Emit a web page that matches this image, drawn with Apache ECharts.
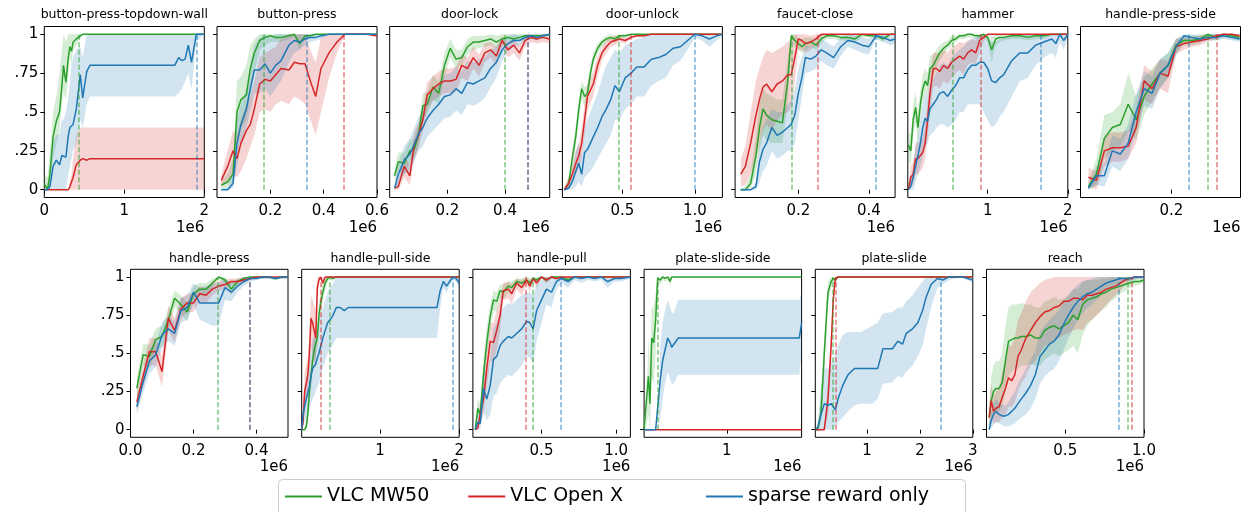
<!DOCTYPE html>
<html>
<head>
<meta charset="utf-8">
<script src="https://cdn.jsdelivr.net/npm/echarts@6/dist/echarts.min.js"></script>
<style>
html, body { margin: 0; padding: 0; background: #fff; }
#chart { width: 1245px; height: 512px; }
</style>
</head>
<body>
<div id="chart"></div>
<script>
/*
 * 数据：x 以 1e6 步为单位，每个任务三条曲线（均值 + 上下界）
 */
var yTicks = [0, 0.25, 0.5, 0.75, 1];

// button-press-topdown-wall
var bptwX = [0, 0.04, 0.07, 0.11, 0.15, 0.19, 0.22, 0.24, 0.27, 0.3, 0.32, 0.34, 0.36, 0.4, 0.45, 0.48, 0.53, 0.57, 0.6, 1.0, 1.4, 1.63, 1.68, 1.72, 1.76, 1.8, 1.84, 1.9, 2.0];
var bptwG = [0.04, 0, 0.1, 0.34, 0.44, 0.5, 0.67, 0.8, 0.69, 0.85, 0.92, 0.89, 0.95, 0.97, 0.99, 1, 1, 1, 1, 1, 1, 1, 1, 1, 1, 1, 1, 1, 1];
var bptwGLo = [0, 0, 0, 0.2, 0.3, 0.38, 0.55, 0.62, 0.58, 0.72, 0.85, 0.8, 0.9, 0.93, 0.97, 1, 1, 1, 1, 1, 1, 1, 1, 1, 1, 1, 1, 1, 1];
var bptwGHi = [0.1, 0.08, 0.25, 0.5, 0.6, 0.75, 0.9, 1, 0.95, 1, 1, 1, 1, 1, 1, 1, 1, 1, 1, 1, 1, 1, 1, 1, 1, 1, 1, 1, 1];
var bptwR = [0, 0, 0, 0, 0, 0, 0, 0, 0, 0, 0.02, 0.05, 0.08, 0.16, 0.19, 0.2, 0.19, 0.2, 0.2, 0.2, 0.2, 0.2, 0.2, 0.2, 0.2, 0.2, 0.2, 0.2, 0.2];
var bptwRLo = [0, 0, 0, 0, 0, 0, 0, 0, 0, 0, 0, 0, 0, 0, 0, 0, 0, 0, 0, 0, 0, 0, 0, 0, 0, 0, 0, 0, 0];
var bptwRHi = [0, 0, 0, 0, 0, 0, 0, 0, 0, 0, 0.05, 0.1, 0.2, 0.35, 0.4, 0.4, 0.4, 0.4, 0.4, 0.4, 0.4, 0.4, 0.4, 0.4, 0.4, 0.4, 0.4, 0.4, 0.4];
var bptwB = [0, 0, 0.02, 0.15, 0.19, 0.16, 0.22, 0.22, 0.21, 0.35, 0.4, 0.4, 0.42, 0.52, 0.74, 0.59, 0.76, 0.8, 0.8, 0.8, 0.8, 0.8, 0.85, 0.83, 0.84, 0.93, 0.82, 1, 1];
var bptwBLo = [0, 0, 0, 0, 0, 0, 0, 0, 0, 0.1, 0.15, 0.2, 0.25, 0.3, 0.45, 0.4, 0.55, 0.6, 0.6, 0.6, 0.6, 0.6, 0.62, 0.65, 0.7, 0.75, 0.65, 0.95, 1];
var bptwBHi = [0, 0.02, 0.1, 0.3, 0.35, 0.36, 0.45, 0.45, 0.5, 0.6, 0.7, 0.8, 0.85, 0.9, 0.92, 0.85, 1, 1, 1, 1, 1, 1, 1, 1, 1, 1, 1, 1, 1];
var bptwTicks = [0, 1, 2];
var bptwVlines = [0.433, null, 1.9];

// button-press
var bpX = [0.016, 0.04, 0.06, 0.075, 0.09, 0.11, 0.125, 0.14, 0.16, 0.18, 0.2, 0.22, 0.24, 0.27, 0.29, 0.31, 0.33, 0.35, 0.37, 0.39, 0.42, 0.45, 0.48, 0.52, 0.56, 0.6];
var bpG = [0.03, 0.05, 0.1, 0.5, 0.58, 0.61, 0.78, 0.88, 0.96, 0.98, 0.99, 0.98, 0.98, 0.99, 1, 0.94, 0.99, 0.99, 1, 1, 1, 1, 1, 1, 1, 1];
var bpGLo = [0, 0.02, 0.05, 0.3, 0.4, 0.45, 0.6, 0.75, 0.9, 0.93, 0.95, 0.95, 0.95, 0.97, 0.98, 0.9, 0.97, 0.98, 1, 1, 1, 1, 1, 1, 1, 1];
var bpGHi = [0.06, 0.1, 0.2, 0.7, 0.73, 0.8, 0.93, 0.97, 1, 1, 1, 1, 1, 1, 1, 1, 1, 1, 1, 1, 1, 1, 1, 1, 1, 1];
var bpR = [0.06, 0.15, 0.25, 0.2, 0.3, 0.38, 0.42, 0.52, 0.68, 0.71, 0.7, 0.74, 0.78, 0.77, 0.82, 0.81, 0.81, 0.7, 0.6, 0.78, 0.88, 0.95, 1, 1, 1, 0.99];
var bpRLo = [0.02, 0.05, 0.1, 0.08, 0.12, 0.2, 0.28, 0.35, 0.5, 0.52, 0.5, 0.55, 0.57, 0.55, 0.6, 0.58, 0.55, 0.45, 0.35, 0.5, 0.72, 0.88, 1, 1, 1, 0.98];
var bpRHi = [0.1, 0.25, 0.38, 0.35, 0.45, 0.55, 0.6, 0.7, 0.85, 0.88, 0.9, 0.92, 0.97, 1, 1, 1, 1, 0.9, 0.82, 0.98, 1, 1, 1, 1, 1, 1];
var bpB = [0, 0, 0.04, 0.3, 0.42, 0.52, 0.65, 0.77, 0.77, 0.81, 0.75, 0.8, 0.83, 0.93, 0.96, 0.95, 0.97, 0.98, 0.98, 0.99, 1, 1, 1, 1, 1, 1];
var bpBLo = [0, 0, 0.01, 0.15, 0.3, 0.4, 0.5, 0.62, 0.62, 0.65, 0.6, 0.65, 0.7, 0.82, 0.88, 0.9, 0.93, 0.95, 0.96, 0.97, 1, 1, 1, 1, 1, 1];
var bpBHi = [0, 0.02, 0.1, 0.45, 0.55, 0.65, 0.8, 0.93, 0.98, 1, 0.98, 1, 1, 1, 1, 1, 1, 1, 1, 1, 1, 1, 1, 1, 1, 1];
var bpTicks = [0.2, 0.4, 0.6];
var bpVlines = [0.176, 0.476, 0.335];

// door-lock
var dlX = [0.017, 0.03, 0.05, 0.07, 0.085, 0.1, 0.115, 0.13, 0.15, 0.17, 0.19, 0.21, 0.23, 0.25, 0.27, 0.29, 0.31, 0.33, 0.35, 0.37, 0.39, 0.41, 0.43, 0.45, 0.47, 0.49, 0.51, 0.53, 0.555];
var dlG = [0.09, 0.18, 0.17, 0.25, 0.26, 0.35, 0.54, 0.55, 0.66, 0.62, 0.8, 0.91, 0.84, 0.85, 0.92, 0.95, 0.95, 0.96, 0.97, 0.95, 0.97, 0.98, 0.97, 0.98, 0.99, 0.99, 0.99, 0.99, 1];
var dlGLo = [0.04, 0.12, 0.1, 0.18, 0.2, 0.28, 0.46, 0.48, 0.58, 0.55, 0.72, 0.85, 0.78, 0.8, 0.87, 0.9, 0.91, 0.92, 0.93, 0.91, 0.94, 0.96, 0.95, 0.96, 0.97, 0.97, 0.98, 0.98, 0.99];
var dlGHi = [0.14, 0.24, 0.24, 0.32, 0.33, 0.42, 0.62, 0.63, 0.74, 0.7, 0.88, 0.97, 0.9, 0.9, 0.97, 0.99, 0.99, 0.99, 1, 0.99, 1, 1, 1, 1, 1, 1, 1, 1, 1];
var dlR = [0.01, 0.02, 0.15, 0.09, 0.29, 0.35, 0.45, 0.61, 0.65, 0.68, 0.7, 0.7, 0.71, 0.8, 0.78, 0.85, 0.8, 0.88, 0.9, 0.86, 0.96, 0.9, 0.93, 0.88, 0.96, 0.98, 0.97, 0.98, 0.97];
var dlRLo = [0, 0, 0.08, 0.03, 0.2, 0.27, 0.37, 0.52, 0.57, 0.6, 0.62, 0.62, 0.63, 0.72, 0.7, 0.78, 0.73, 0.82, 0.85, 0.8, 0.92, 0.85, 0.88, 0.83, 0.92, 0.95, 0.94, 0.95, 0.94];
var dlRHi = [0.03, 0.06, 0.22, 0.16, 0.37, 0.43, 0.53, 0.69, 0.73, 0.76, 0.78, 0.78, 0.79, 0.87, 0.85, 0.92, 0.87, 0.94, 0.95, 0.92, 0.99, 0.95, 0.97, 0.93, 0.99, 1, 0.99, 1, 0.99];
var dlB = [0.01, 0.1, 0.19, 0.23, 0.29, 0.36, 0.4, 0.46, 0.51, 0.55, 0.6, 0.61, 0.65, 0.62, 0.69, 0.68, 0.7, 0.72, 0.78, 0.82, 0.9, 0.94, 0.96, 0.96, 0.98, 0.99, 0.98, 0.99, 1];
var dlBLo = [0, 0.03, 0.1, 0.13, 0.18, 0.25, 0.28, 0.34, 0.38, 0.42, 0.46, 0.47, 0.51, 0.48, 0.55, 0.54, 0.56, 0.59, 0.66, 0.72, 0.83, 0.89, 0.92, 0.93, 0.96, 0.97, 0.96, 0.98, 0.99];
var dlBHi = [0.02, 0.17, 0.28, 0.33, 0.4, 0.47, 0.52, 0.58, 0.64, 0.68, 0.74, 0.75, 0.79, 0.76, 0.83, 0.82, 0.84, 0.85, 0.9, 0.92, 0.97, 0.99, 1, 0.99, 1, 1, 1, 1, 1];
var dlTicks = [0.2, 0.4];
var dlVlines = [0.4, 0.48, 0.48];

// door-unlock
var duX = [0.1, 0.13, 0.155, 0.18, 0.2, 0.22, 0.24, 0.26, 0.28, 0.3, 0.33, 0.36, 0.39, 0.42, 0.45, 0.48, 0.52, 0.56, 0.6, 0.65, 0.7, 0.75, 0.8, 0.85, 0.9, 0.95, 1.0, 1.05, 1.1, 1.15, 1.19];
var duG = [0, 0.04, 0.2, 0.35, 0.52, 0.65, 0.6, 0.62, 0.75, 0.84, 0.91, 0.95, 0.97, 0.98, 0.97, 0.99, 0.99, 1, 1, 1, 1, 1, 1, 1, 1, 1, 1, 1, 1, 1, 1];
var duGLo = [0, 0.01, 0.14, 0.28, 0.45, 0.58, 0.54, 0.56, 0.7, 0.8, 0.88, 0.92, 0.95, 0.96, 0.95, 0.97, 0.98, 0.99, 1, 1, 1, 1, 1, 1, 1, 1, 1, 1, 1, 1, 1];
var duGHi = [0.01, 0.08, 0.26, 0.42, 0.58, 0.7, 0.66, 0.68, 0.8, 0.88, 0.94, 0.97, 0.99, 1, 0.99, 1, 1, 1, 1, 1, 1, 1, 1, 1, 1, 1, 1, 1, 1, 1, 1];
var duR = [0, 0.04, 0.1, 0.17, 0.22, 0.3, 0.45, 0.6, 0.64, 0.68, 0.8, 0.88, 0.92, 0.95, 0.96, 0.97, 0.96, 0.98, 0.99, 0.99, 1, 1, 1, 1, 1, 1, 1, 1, 1, 1, 1];
var duRLo = [0, 0.01, 0.05, 0.1, 0.14, 0.2, 0.35, 0.5, 0.56, 0.6, 0.73, 0.83, 0.88, 0.92, 0.93, 0.95, 0.94, 0.97, 0.98, 0.98, 1, 1, 1, 1, 1, 1, 1, 1, 1, 1, 1];
var duRHi = [0.01, 0.08, 0.16, 0.25, 0.3, 0.4, 0.55, 0.68, 0.72, 0.76, 0.86, 0.92, 0.96, 0.98, 0.99, 0.99, 0.98, 0.99, 1, 1, 1, 1, 1, 1, 1, 1, 1, 1, 1, 1, 1];
var duB = [0, 0.01, 0.05, 0.12, 0.17, 0.1, 0.24, 0.26, 0.3, 0.34, 0.4, 0.47, 0.52, 0.58, 0.67, 0.63, 0.72, 0.75, 0.79, 0.79, 0.84, 0.85, 0.87, 0.91, 0.92, 0.96, 1.0, 0.99, 0.97, 0.99, 1];
var duBLo = [0, 0, 0, 0.02, 0.05, 0.02, 0.08, 0.1, 0.12, 0.15, 0.2, 0.25, 0.3, 0.35, 0.45, 0.45, 0.52, 0.55, 0.6, 0.6, 0.67, 0.7, 0.72, 0.8, 0.83, 0.9, 0.98, 0.96, 0.92, 0.96, 0.99];
var duBHi = [0, 0.04, 0.12, 0.25, 0.3, 0.22, 0.4, 0.45, 0.5, 0.55, 0.62, 0.72, 0.8, 0.85, 0.9, 0.88, 0.93, 0.95, 0.97, 0.98, 1, 1, 1, 1, 1, 1, 1, 1, 1, 1, 1];
var duTicks = [0.5, 1.0];
var duVlines = [0.473, 0.56, 1.0];

// faucet-close
var fcX = [0.037, 0.05, 0.065, 0.08, 0.09, 0.1, 0.11, 0.125, 0.14, 0.155, 0.17, 0.18, 0.19, 0.2, 0.21, 0.22, 0.235, 0.25, 0.265, 0.28, 0.3, 0.32, 0.34, 0.36, 0.38, 0.4, 0.42, 0.44, 0.46, 0.474];
var fcG = [0, 0, 0.04, 0.22, 0.4, 0.52, 0.48, 0.45, 0.44, 0.43, 0.7, 0.99, 0.96, 0.94, 0.92, 0.94, 0.95, 0.93, 0.97, 0.99, 0.99, 0.98, 0.98, 0.97, 1, 0.99, 0.99, 0.97, 1, 1];
var fcGLo = [0, 0, 0.01, 0.1, 0.25, 0.35, 0.32, 0.3, 0.3, 0.3, 0.55, 0.95, 0.92, 0.9, 0.88, 0.9, 0.92, 0.9, 0.94, 0.97, 0.97, 0.96, 0.96, 0.95, 0.98, 0.98, 0.98, 0.95, 0.99, 1];
var fcGHi = [0.01, 0.02, 0.1, 0.35, 0.55, 0.65, 0.62, 0.6, 0.58, 0.58, 0.85, 1, 1, 0.98, 0.97, 0.98, 0.98, 0.97, 1, 1, 1, 1, 1, 0.99, 1, 1, 1, 1, 1, 1];
var fcR = [0.1, 0.15, 0.3, 0.48, 0.58, 0.66, 0.68, 0.63, 0.68, 0.7, 0.74, 0.74, 0.85, 0.97, 0.96, 0.94, 0.95, 0.97, 1, 1, 1, 1, 1, 1, 1, 1, 1, 1, 1, 1];
var fcRLo = [0.02, 0.03, 0.1, 0.2, 0.3, 0.38, 0.42, 0.38, 0.45, 0.48, 0.5, 0.52, 0.7, 0.9, 0.9, 0.88, 0.9, 0.93, 0.98, 1, 1, 1, 1, 1, 1, 1, 1, 1, 1, 1];
var fcRHi = [0.2, 0.28, 0.5, 0.7, 0.78, 0.85, 0.9, 0.88, 0.9, 0.92, 0.95, 0.97, 1, 1, 1, 1, 0.99, 1, 1, 1, 1, 1, 1, 1, 1, 1, 1, 1, 1, 1];
var fcB = [0, 0, 0, 0.02, 0.18, 0.26, 0.3, 0.4, 0.35, 0.37, 0.4, 0.42, 0.48, 0.62, 0.72, 0.85, 0.84, 0.86, 0.9, 0.88, 0.85, 0.92, 0.96, 0.95, 0.93, 0.92, 0.99, 0.98, 0.96, 0.97];
var fcBLo = [0, 0, 0, 0, 0.05, 0.12, 0.15, 0.25, 0.2, 0.22, 0.25, 0.25, 0.3, 0.45, 0.6, 0.75, 0.76, 0.78, 0.83, 0.8, 0.78, 0.86, 0.92, 0.9, 0.88, 0.87, 0.97, 0.95, 0.93, 0.94];
var fcBHi = [0, 0, 0, 0.05, 0.3, 0.4, 0.45, 0.52, 0.5, 0.5, 0.55, 0.58, 0.65, 0.78, 0.85, 0.93, 0.92, 0.93, 0.97, 0.95, 0.92, 0.98, 1, 1, 0.98, 0.97, 1, 1, 0.99, 1];
var fcTicks = [0.2, 0.4];
var fcVlines = [0.181, 0.255, 0.419];

// hammer
var hmX = [0.01, 0.04, 0.07, 0.1, 0.13, 0.16, 0.19, 0.22, 0.25, 0.28, 0.32, 0.36, 0.4, 0.45, 0.5, 0.55, 0.6, 0.65, 0.7, 0.75, 0.8, 0.85, 0.9, 0.95, 1.0, 1.05, 1.1, 1.15, 1.2, 1.3, 1.4, 1.5, 1.6, 1.7, 1.8, 1.85, 1.9, 1.95, 2.0];
var hmG = [0.29, 0.25, 0.45, 0.53, 0.4, 0.55, 0.65, 0.7, 0.67, 0.78, 0.8, 0.84, 0.88, 0.91, 0.93, 0.96, 0.97, 0.99, 0.99, 1, 1, 0.99, 0.99, 1, 0.98, 0.9, 0.97, 0.98, 0.98, 0.99, 0.99, 0.98, 0.99, 0.99, 1, 1, 1, 1, 1];
var hmGLo = [0.2, 0.15, 0.35, 0.43, 0.3, 0.45, 0.56, 0.62, 0.6, 0.7, 0.73, 0.78, 0.83, 0.87, 0.9, 0.93, 0.95, 0.97, 0.97, 0.98, 0.98, 0.97, 0.97, 0.98, 0.95, 0.82, 0.93, 0.95, 0.96, 0.97, 0.97, 0.96, 0.97, 0.97, 0.99, 0.99, 0.99, 1, 1];
var hmGHi = [0.38, 0.35, 0.55, 0.63, 0.5, 0.65, 0.74, 0.78, 0.75, 0.86, 0.87, 0.9, 0.93, 0.95, 0.96, 0.99, 0.99, 1, 1, 1, 1, 1, 1, 1, 1, 0.98, 1, 1, 1, 1, 1, 1, 1, 1, 1, 1, 1, 1, 1];
var hmR = [0, 0.08, 0.1, 0.2, 0.2, 0.22, 0.24, 0.3, 0.45, 0.62, 0.78, 0.78, 0.76, 0.8, 0.78, 0.82, 0.84, 0.86, 0.84, 0.88, 0.9, 0.88, 0.96, 0.98, 1, 1, 1, 1, 1, 1, 1, 1, 1, 1, 1, 1, 1, 1, 1];
var hmRLo = [0, 0.02, 0.03, 0.1, 0.1, 0.12, 0.14, 0.2, 0.33, 0.5, 0.66, 0.67, 0.65, 0.7, 0.68, 0.72, 0.75, 0.77, 0.74, 0.8, 0.82, 0.8, 0.9, 0.95, 0.99, 1, 1, 1, 1, 1, 1, 1, 1, 1, 1, 1, 1, 1, 1];
var hmRHi = [0.02, 0.15, 0.18, 0.3, 0.3, 0.32, 0.34, 0.42, 0.57, 0.74, 0.88, 0.88, 0.87, 0.9, 0.88, 0.92, 0.93, 0.95, 0.94, 0.96, 0.97, 0.96, 1, 1, 1, 1, 1, 1, 1, 1, 1, 1, 1, 1, 1, 1, 1, 1, 1];
var hmB = [0, 0.02, 0.08, 0.15, 0.22, 0.3, 0.4, 0.46, 0.44, 0.52, 0.55, 0.58, 0.62, 0.63, 0.6, 0.64, 0.67, 0.72, 0.72, 0.77, 0.8, 0.8, 0.82, 0.82, 0.78, 0.7, 0.69, 0.72, 0.74, 0.83, 0.88, 0.88, 0.93, 0.95, 0.97, 0.94, 1, 0.96, 1];
var hmBLo = [0, 0, 0, 0.05, 0.1, 0.15, 0.22, 0.28, 0.3, 0.35, 0.37, 0.4, 0.42, 0.42, 0.4, 0.42, 0.45, 0.5, 0.5, 0.55, 0.55, 0.55, 0.55, 0.5, 0.45, 0.4, 0.42, 0.47, 0.5, 0.6, 0.7, 0.72, 0.8, 0.85, 0.88, 0.85, 0.95, 0.9, 0.98];
var hmBHi = [0.02, 0.06, 0.15, 0.28, 0.35, 0.45, 0.55, 0.62, 0.6, 0.68, 0.72, 0.75, 0.8, 0.82, 0.8, 0.85, 0.88, 0.9, 0.92, 0.95, 0.97, 0.98, 1, 1, 0.98, 0.95, 0.95, 0.97, 0.98, 1, 1, 1, 1, 1, 1, 1, 1, 1, 1];
var hmTicks = [1, 2];
var hmVlines = [0.56, 0.917, 1.66];

// handle-press-side
var hpsX = [0.0175, 0.035, 0.0525, 0.07, 0.0875, 0.105, 0.1225, 0.14, 0.1575, 0.175, 0.1925, 0.21, 0.2275, 0.245, 0.2625, 0.28, 0.2975, 0.315, 0.3325, 0.35];
var hpsG = [0.02, 0.1, 0.33, 0.4, 0.42, 0.55, 0.45, 0.6, 0.68, 0.75, 0.8, 0.93, 0.96, 0.96, 0.97, 1, 0.98, 1, 0.99, 0.98];
var hpsGLo = [0, 0.03, 0.2, 0.25, 0.28, 0.38, 0.32, 0.48, 0.57, 0.66, 0.72, 0.88, 0.93, 0.93, 0.94, 0.98, 0.96, 0.98, 0.97, 0.96];
var hpsGHi = [0.05, 0.2, 0.48, 0.5, 0.55, 0.75, 0.6, 0.72, 0.78, 0.84, 0.88, 0.97, 0.99, 0.99, 1, 1, 1, 1, 1, 1];
var hpsR = [0.08, 0.06, 0.25, 0.27, 0.27, 0.28, 0.4, 0.7, 0.65, 0.75, 0.73, 0.92, 0.94, 0.95, 0.96, 0.97, 0.99, 1, 1, 0.99];
var hpsRLo = [0.02, 0, 0.15, 0.18, 0.18, 0.2, 0.3, 0.58, 0.55, 0.65, 0.62, 0.87, 0.9, 0.92, 0.93, 0.95, 0.97, 0.99, 0.99, 0.97];
var hpsRHi = [0.14, 0.12, 0.35, 0.37, 0.37, 0.38, 0.52, 0.8, 0.76, 0.84, 0.83, 0.97, 0.98, 0.98, 0.99, 0.99, 1, 1, 1, 1];
var hpsB = [0.01, 0.09, 0.09, 0.25, 0.23, 0.3, 0.5, 0.65, 0.62, 0.75, 0.8, 0.92, 0.99, 0.98, 0.97, 0.98, 0.98, 0.99, 0.98, 0.97];
var hpsBLo = [0, 0.03, 0.02, 0.15, 0.12, 0.2, 0.38, 0.54, 0.52, 0.65, 0.72, 0.86, 0.96, 0.95, 0.95, 0.96, 0.96, 0.97, 0.96, 0.95];
var hpsBHi = [0.03, 0.15, 0.17, 0.35, 0.33, 0.42, 0.62, 0.76, 0.73, 0.84, 0.88, 0.97, 1, 1, 0.99, 1, 1, 1, 1, 0.99];
var hpsTicks = [0.2];
var hpsVlines = [0.279, 0.299, 0.239];

// handle-press
var hpX = [0.02, 0.04, 0.06, 0.08, 0.1, 0.12, 0.14, 0.16, 0.18, 0.2, 0.22, 0.24, 0.26, 0.28, 0.3, 0.32, 0.34, 0.36, 0.38, 0.4, 0.42, 0.44, 0.46, 0.48, 0.5];
var hpG = [0.27, 0.49, 0.48, 0.59, 0.61, 0.72, 0.86, 0.82, 0.77, 0.89, 0.92, 0.92, 0.96, 1, 0.98, 0.92, 0.97, 0.99, 1, 1, 1, 1, 0.99, 1, 1];
var hpGLo = [0.2, 0.42, 0.4, 0.52, 0.54, 0.65, 0.8, 0.76, 0.71, 0.84, 0.88, 0.88, 0.93, 0.98, 0.96, 0.88, 0.95, 0.98, 0.99, 0.99, 0.99, 0.99, 0.98, 0.99, 0.99];
var hpGHi = [0.34, 0.56, 0.56, 0.66, 0.68, 0.79, 0.91, 0.88, 0.83, 0.94, 0.96, 0.96, 0.99, 1, 1, 0.96, 0.99, 1, 1, 1, 1, 1, 1, 1, 1];
var hpR = [0.18, 0.35, 0.51, 0.51, 0.38, 0.73, 0.65, 0.79, 0.83, 0.83, 0.89, 0.88, 0.92, 0.94, 0.95, 0.97, 0.97, 0.98, 0.99, 1, 1, 1, 1, 1, 1];
var hpRLo = [0.12, 0.28, 0.42, 0.42, 0.28, 0.65, 0.57, 0.72, 0.77, 0.77, 0.84, 0.83, 0.88, 0.91, 0.92, 0.95, 0.95, 0.96, 0.98, 0.99, 0.99, 0.99, 0.99, 0.99, 0.99];
var hpRHi = [0.24, 0.42, 0.6, 0.6, 0.48, 0.81, 0.73, 0.86, 0.89, 0.89, 0.94, 0.93, 0.96, 0.97, 0.98, 0.99, 0.99, 1, 1, 1, 1, 1, 1, 1, 1];
var hpB = [0.15, 0.31, 0.45, 0.49, 0.62, 0.66, 0.63, 0.78, 0.8, 0.9, 0.83, 0.83, 0.83, 0.83, 0.93, 0.9, 0.94, 0.97, 0.99, 0.99, 1, 1, 0.99, 1, 1];
var hpBLo = [0.1, 0.24, 0.37, 0.41, 0.54, 0.58, 0.55, 0.7, 0.72, 0.82, 0.72, 0.7, 0.68, 0.68, 0.85, 0.84, 0.9, 0.94, 0.97, 0.98, 0.99, 0.99, 0.98, 0.99, 0.99];
var hpBHi = [0.2, 0.38, 0.53, 0.57, 0.7, 0.74, 0.71, 0.86, 0.88, 0.96, 0.93, 0.94, 0.95, 0.96, 0.99, 0.96, 0.98, 1, 1, 1, 1, 1, 1, 1, 1];
var hpTicks = [0, 0.2, 0.4];
var hpVlines = [0.278, 0.379, 0.379];

// handle-pull-side
var hplsX = [0.013, 0.03, 0.05, 0.07, 0.09, 0.11, 0.13, 0.15, 0.17, 0.19, 0.21, 0.23, 0.25, 0.28, 0.31, 0.34, 0.37, 0.4, 0.45, 0.5, 0.55, 0.6, 0.8, 1.2, 1.6, 1.72, 1.76, 1.8, 1.84, 1.88, 1.92, 1.96, 2.0];
var hplsG = [0, 0, 0, 0.02, 0.1, 0.25, 0.35, 0.45, 0.52, 0.56, 0.6, 0.75, 0.82, 0.9, 0.96, 0.99, 1, 0.99, 1, 1, 1, 1, 1, 1, 1, 1, 1, 1, 1, 1, 1, 1, 1];
var hplsGLo = [0, 0, 0, 0, 0.04, 0.17, 0.27, 0.37, 0.44, 0.48, 0.52, 0.67, 0.75, 0.84, 0.92, 0.97, 0.99, 0.97, 1, 1, 1, 1, 1, 1, 1, 1, 1, 1, 1, 1, 1, 1, 1];
var hplsGHi = [0, 0, 0.01, 0.06, 0.17, 0.33, 0.43, 0.53, 0.6, 0.64, 0.68, 0.83, 0.89, 0.96, 1, 1, 1, 1, 1, 1, 1, 1, 1, 1, 1, 1, 1, 1, 1, 1, 1, 1, 1];
var hplsR = [0, 0.05, 0.25, 0.3, 0.36, 0.5, 0.73, 0.7, 0.65, 0.6, 0.93, 0.98, 1, 0.96, 1, 1, 1, 1, 1, 1, 1, 1, 1, 1, 1, 1, 1, 1, 1, 1, 1, 1, 1];
var hplsRLo = [0, 0, 0.12, 0.2, 0.25, 0.35, 0.55, 0.5, 0.45, 0.42, 0.85, 0.95, 1, 0.93, 1, 1, 1, 1, 1, 1, 1, 1, 1, 1, 1, 1, 1, 1, 1, 1, 1, 1, 1];
var hplsRHi = [0.02, 0.12, 0.38, 0.42, 0.48, 0.65, 0.88, 0.85, 0.82, 0.78, 1, 1, 1, 1, 1, 1, 1, 1, 1, 1, 1, 1, 1, 1, 1, 1, 1, 1, 1, 1, 1, 1, 1];
var hplsB = [0, 0.1, 0.15, 0.2, 0.24, 0.28, 0.35, 0.4, 0.4, 0.43, 0.47, 0.5, 0.54, 0.6, 0.65, 0.7, 0.72, 0.74, 0.8, 0.8, 0.78, 0.8, 0.8, 0.8, 0.8, 0.8, 0.91, 0.97, 0.94, 0.97, 1, 0.99, 0.96];
var hplsBLo = [0, 0.02, 0.05, 0.08, 0.1, 0.12, 0.17, 0.2, 0.22, 0.25, 0.28, 0.3, 0.35, 0.4, 0.45, 0.5, 0.52, 0.55, 0.6, 0.6, 0.6, 0.6, 0.6, 0.6, 0.6, 0.6, 0.8, 0.93, 0.9, 0.94, 0.98, 0.97, 0.93];
var hplsBHi = [0, 0.18, 0.25, 0.32, 0.38, 0.45, 0.52, 0.6, 0.6, 0.63, 0.68, 0.72, 0.75, 0.8, 0.85, 0.9, 0.93, 0.95, 1, 1, 1, 1, 1, 1, 1, 1, 1, 1, 1, 1, 1, 1, 1];
var hplsTicks = [1, 2];
var hplsVlines = [0.361, 0.256, 1.916];

// handle-pull
var hplX = [0.056, 0.073, 0.089, 0.111, 0.133, 0.156, 0.178, 0.2, 0.222, 0.244, 0.278, 0.3, 0.333, 0.367, 0.4, 0.422, 0.444, 0.467, 0.5, 0.533, 0.567, 0.6, 0.633, 0.678, 0.722, 0.767, 0.811, 0.856, 0.9, 0.944, 0.989, 1.033, 1.096];
var hplG = [0, 0.14, 0.1, 0.36, 0.57, 0.74, 0.85, 0.84, 0.91, 0.9, 0.94, 0.93, 0.97, 0.96, 0.98, 0.96, 0.99, 0.98, 1, 0.98, 1, 1, 1, 0.98, 1, 1, 1, 1, 1, 1, 1, 1, 1];
var hplGLo = [0, 0.08, 0.04, 0.26, 0.47, 0.65, 0.78, 0.77, 0.86, 0.85, 0.9, 0.89, 0.94, 0.93, 0.96, 0.93, 0.97, 0.96, 0.99, 0.96, 0.99, 0.99, 0.99, 0.96, 0.99, 0.99, 1, 1, 1, 1, 1, 1, 1];
var hplGHi = [0.01, 0.2, 0.17, 0.46, 0.67, 0.82, 0.91, 0.9, 0.95, 0.95, 0.97, 0.97, 0.99, 0.99, 1, 0.99, 1, 1, 1, 1, 1, 1, 1, 1, 1, 1, 1, 1, 1, 1, 1, 1, 1];
var hplR = [0, 0.01, 0.1, 0.2, 0.4, 0.58, 0.57, 0.65, 0.75, 0.91, 0.92, 0.89, 0.96, 0.93, 0.98, 0.94, 0.99, 0.96, 1, 0.98, 1, 0.99, 1, 1, 1, 1, 1, 1, 1, 1, 1, 1, 1];
var hplRLo = [0, 0, 0.04, 0.1, 0.28, 0.45, 0.44, 0.52, 0.64, 0.85, 0.86, 0.82, 0.92, 0.88, 0.95, 0.9, 0.97, 0.93, 0.99, 0.96, 0.99, 0.98, 0.99, 0.99, 1, 1, 1, 1, 1, 1, 1, 1, 1];
var hplRHi = [0.01, 0.04, 0.18, 0.32, 0.52, 0.7, 0.7, 0.78, 0.86, 0.96, 0.97, 0.95, 0.99, 0.98, 1, 0.98, 1, 0.99, 1, 1, 1, 1, 1, 1, 1, 1, 1, 1, 1, 1, 1, 1, 1];
var hplB = [0, 0.05, 0.04, 0.27, 0.2, 0.29, 0.46, 0.48, 0.55, 0.58, 0.61, 0.6, 0.63, 0.66, 0.71, 0.7, 0.66, 0.78, 0.85, 0.92, 0.9, 0.97, 0.99, 0.97, 1, 0.99, 1, 0.99, 1, 0.97, 0.99, 0.99, 1];
var hplBLo = [0, 0.01, 0, 0.12, 0.06, 0.1, 0.22, 0.24, 0.3, 0.33, 0.36, 0.35, 0.38, 0.42, 0.48, 0.47, 0.43, 0.58, 0.7, 0.82, 0.8, 0.92, 0.96, 0.93, 0.98, 0.96, 0.98, 0.97, 0.98, 0.93, 0.97, 0.97, 0.99];
var hplBHi = [0.02, 0.12, 0.12, 0.42, 0.36, 0.48, 0.66, 0.7, 0.76, 0.8, 0.83, 0.82, 0.85, 0.88, 0.9, 0.9, 0.88, 0.95, 0.98, 1, 1, 1, 1, 1, 1, 1, 1, 1, 1, 1, 1, 1, 1];
var hplTicks = [0.5, 1.0];
var hplVlines = [0.438, 0.396, 0.629];

// plate-slide-side
var pssX = [0.005, 0.028, 0.056, 0.076, 0.096, 0.12, 0.144, 0.168, 0.176, 0.2, 0.228, 0.256, 0.289, 0.317, 0.337, 0.36, 0.417, 0.6, 1.0, 1.4, 1.872, 1.9];
var pssG = [0, 0, 0.35, 0.17, 0.6, 0.57, 0.72, 0.99, 0.99, 0.98, 1, 0.99, 1, 0.97, 1, 1, 1, 1, 1, 1, 1, 1];
var pssGLo = [0, 0, 0.1, 0, 0.35, 0.3, 0.5, 0.95, 0.95, 0.95, 0.98, 0.97, 0.98, 0.94, 0.99, 1, 1, 1, 1, 1, 1, 1];
var pssGHi = [0, 0.02, 0.6, 0.4, 0.8, 0.8, 0.9, 1, 1, 1, 1, 1, 1, 1, 1, 1, 1, 1, 1, 1, 1, 1];
var pssR = [0, 0, 0, 0, 0, 0, 0, 0, 0, 0, 0, 0, 0, 0, 0, 0, 0, 0, 0, 0, 0, 0];
var pssRLo = [0, 0, 0, 0, 0, 0, 0, 0, 0, 0, 0, 0, 0, 0, 0, 0, 0, 0, 0, 0, 0, 0];
var pssRHi = [0, 0, 0, 0, 0, 0, 0, 0, 0, 0, 0, 0, 0, 0, 0, 0, 0, 0, 0, 0, 0, 0];
var pssB = [0, 0, 0, 0, 0, 0, 0, 0, 0, 0.33, 0.45, 0.52, 0.6, 0.57, 0.54, 0.53, 0.6, 0.6, 0.6, 0.6, 0.6, 0.7];
var pssBLo = [0, 0, 0, 0, 0, 0, 0, 0, 0, 0.08, 0.2, 0.3, 0.38, 0.33, 0.3, 0.3, 0.36, 0.36, 0.36, 0.36, 0.36, 0.5];
var pssBHi = [0, 0, 0, 0, 0, 0, 0, 0, 0, 0.55, 0.7, 0.78, 0.85, 0.8, 0.77, 0.76, 0.85, 0.85, 0.85, 0.85, 0.85, 0.9];
var pssTicks = [1];
var pssVlines = [0.168, null, null];

// plate-slide
var psX = [0.025, 0.07, 0.13, 0.19, 0.26, 0.32, 0.36, 0.4, 0.45, 0.54, 0.64, 0.76, 0.89, 1.1, 1.2, 1.3, 1.48, 1.58, 1.67, 1.74, 1.86, 1.96, 2.05, 2.11, 2.21, 2.33, 2.43, 2.55, 2.8, 3.0];
var psG = [0, 0, 0.12, 0.5, 0.9, 0.97, 0.99, 0.98, 1, 1, 1, 1, 1, 1, 1, 1, 1, 1, 1, 1, 1, 1, 1, 1, 1, 1, 1, 1, 1, 1];
var psGLo = [0, 0, 0.05, 0.38, 0.82, 0.93, 0.96, 0.95, 1, 1, 1, 1, 1, 1, 1, 1, 1, 1, 1, 1, 1, 1, 1, 1, 1, 1, 1, 1, 1, 1];
var psGHi = [0, 0.02, 0.22, 0.62, 0.97, 1, 1, 1, 1, 1, 1, 1, 1, 1, 1, 1, 1, 1, 1, 1, 1, 1, 1, 1, 1, 1, 1, 1, 1, 1];
var psR = [0, 0, 0, 0, 0.2, 0.55, 0.85, 0.99, 1, 1, 1, 1, 1, 1, 1, 1, 1, 1, 1, 1, 1, 1, 1, 1, 1, 1, 1, 1, 1, 1];
var psRLo = [0, 0, 0, 0, 0.1, 0.45, 0.78, 0.97, 1, 1, 1, 1, 1, 1, 1, 1, 1, 1, 1, 1, 1, 1, 1, 1, 1, 1, 1, 1, 1, 1];
var psRHi = [0, 0, 0, 0.02, 0.3, 0.65, 0.92, 1, 1, 1, 1, 1, 1, 1, 1, 1, 1, 1, 1, 1, 1, 1, 1, 1, 1, 1, 1, 1, 1, 1];
var psB = [0, 0.02, 0.1, 0.17, 0.16, 0.17, 0.15, 0.13, 0.2, 0.29, 0.36, 0.4, 0.4, 0.4, 0.4, 0.53, 0.53, 0.58, 0.56, 0.63, 0.66, 0.7, 0.78, 0.86, 0.95, 0.99, 0.98, 1, 1, 0.98];
var psBLo = [0, 0, 0, 0, 0, 0, 0, 0.02, 0.05, 0.08, 0.12, 0.16, 0.17, 0.17, 0.2, 0.3, 0.31, 0.35, 0.34, 0.38, 0.42, 0.48, 0.55, 0.65, 0.8, 0.93, 0.95, 0.98, 1, 0.96];
var psBHi = [0, 0.05, 0.3, 0.4, 0.4, 0.45, 0.45, 0.5, 0.55, 0.62, 0.64, 0.64, 0.64, 0.68, 0.7, 0.76, 0.77, 0.8, 0.8, 0.84, 0.88, 0.93, 0.97, 1, 1, 1, 1, 1, 1, 1];
var psTicks = [1, 2, 3];
var psVlines = [0.35, 0.415, 2.4];

// reach
var rcX = [0.017, 0.03, 0.045, 0.06, 0.08, 0.1, 0.12, 0.14, 0.16, 0.18, 0.2, 0.22, 0.25, 0.28, 0.31, 0.34, 0.37, 0.4, 0.43, 0.46, 0.49, 0.52, 0.55, 0.58, 0.61, 0.64, 0.67, 0.7, 0.73, 0.76, 0.79, 0.82, 0.85, 0.88, 0.91, 0.94, 0.97, 1.0];
var rcG = [0.08, 0.19, 0.25, 0.27, 0.27, 0.31, 0.45, 0.58, 0.59, 0.6, 0.6, 0.61, 0.61, 0.62, 0.6, 0.6, 0.65, 0.67, 0.68, 0.66, 0.68, 0.7, 0.75, 0.72, 0.82, 0.85, 0.86, 0.87, 0.89, 0.9, 0.92, 0.93, 0.94, 0.95, 0.96, 0.97, 0.97, 0.98];
var rcGLo = [0, 0.05, 0.1, 0.12, 0.12, 0.15, 0.25, 0.35, 0.38, 0.4, 0.4, 0.42, 0.42, 0.43, 0.42, 0.42, 0.46, 0.48, 0.5, 0.48, 0.5, 0.52, 0.55, 0.5, 0.62, 0.68, 0.72, 0.75, 0.78, 0.8, 0.84, 0.86, 0.89, 0.91, 0.93, 0.94, 0.95, 0.96];
var rcGHi = [0.18, 0.35, 0.42, 0.45, 0.45, 0.5, 0.68, 0.8, 0.82, 0.82, 0.82, 0.83, 0.82, 0.82, 0.8, 0.8, 0.84, 0.85, 0.87, 0.85, 0.86, 0.88, 0.92, 0.92, 0.97, 0.98, 0.98, 0.98, 0.99, 0.99, 1, 1, 1, 1, 1, 1, 1, 1];
var rcR = [0.08, 0.19, 0.12, 0.14, 0.15, 0.21, 0.27, 0.34, 0.32, 0.36, 0.48, 0.52, 0.6, 0.65, 0.7, 0.74, 0.77, 0.78, 0.8, 0.81, 0.84, 0.84, 0.86, 0.86, 0.85, 0.88, 0.88, 0.89, 0.9, 0.92, 0.93, 0.94, 0.96, 0.98, 0.99, 1, 1, 1];
var rcRLo = [0.02, 0.08, 0.04, 0.05, 0.05, 0.08, 0.1, 0.15, 0.15, 0.18, 0.25, 0.3, 0.35, 0.42, 0.45, 0.5, 0.55, 0.56, 0.58, 0.6, 0.62, 0.63, 0.65, 0.66, 0.65, 0.7, 0.72, 0.75, 0.78, 0.82, 0.85, 0.88, 0.91, 0.95, 0.97, 0.99, 1, 1];
var rcRHi = [0.15, 0.3, 0.22, 0.25, 0.28, 0.38, 0.45, 0.55, 0.55, 0.6, 0.72, 0.76, 0.84, 0.9, 0.93, 0.96, 0.98, 0.99, 1, 1, 1, 1, 1, 1, 1, 1, 1, 1, 1, 1, 1, 1, 1, 1, 1, 1, 1, 1];
var rcB = [0, 0.06, 0.1, 0.12, 0.1, 0.09, 0.09, 0.1, 0.12, 0.14, 0.17, 0.2, 0.24, 0.29, 0.36, 0.48, 0.52, 0.56, 0.58, 0.62, 0.69, 0.75, 0.8, 0.84, 0.87, 0.89, 0.9, 0.92, 0.94, 0.96, 0.97, 0.98, 0.99, 0.99, 0.99, 1, 1, 1];
var rcBLo = [0, 0.01, 0.03, 0.05, 0.04, 0.03, 0.02, 0.02, 0.03, 0.04, 0.06, 0.08, 0.1, 0.14, 0.2, 0.3, 0.35, 0.38, 0.4, 0.45, 0.52, 0.6, 0.66, 0.72, 0.76, 0.8, 0.82, 0.85, 0.88, 0.9, 0.92, 0.94, 0.96, 0.97, 0.97, 0.98, 0.99, 0.99];
var rcBHi = [0.02, 0.12, 0.18, 0.2, 0.18, 0.16, 0.16, 0.18, 0.22, 0.25, 0.3, 0.34, 0.4, 0.46, 0.52, 0.64, 0.68, 0.72, 0.75, 0.78, 0.84, 0.88, 0.92, 0.95, 0.97, 0.98, 0.99, 1, 1, 1, 1, 1, 1, 1, 1, 1, 1, 1];
var rcTicks = [0.5, 1.0];
var rcVlines = [0.896, 0.922, 0.839];

var methods = [
	{ name: 'VLC MW50', color: '#2ca02c', band: 'rgba(44,160,44,0.2)' },
	{ name: 'VLC Open X', color: '#d62728', band: 'rgba(214,39,40,0.2)' },
	{ name: 'sparse reward only', color: '#1f77b4', band: 'rgba(31,119,180,0.2)' }
];

var panels = [
	{ title: 'button-press-topdown-wall', x: bptwX, xr: [0, 2], ticks: bptwTicks, vl: bptwVlines, lines: [[bptwG, bptwGLo, bptwGHi], [bptwR, bptwRLo, bptwRHi], [bptwB, bptwBLo, bptwBHi]] },
	{ title: 'button-press', x: bpX, xr: [0, 0.6], ticks: bpTicks, vl: bpVlines, lines: [[bpG, bpGLo, bpGHi], [bpR, bpRLo, bpRHi], [bpB, bpBLo, bpBHi]] },
	{ title: 'door-lock', x: dlX, xr: [0, 0.555], ticks: dlTicks, vl: dlVlines, lines: [[dlG, dlGLo, dlGHi], [dlR, dlRLo, dlRHi], [dlB, dlBLo, dlBHi]] },
	{ title: 'door-unlock', x: duX, xr: [0.087, 1.19], ticks: duTicks, vl: duVlines, lines: [[duG, duGLo, duGHi], [duR, duRLo, duRHi], [duB, duBLo, duBHi]] },
	{ title: 'faucet-close', x: fcX, xr: [0.021, 0.474], ticks: fcTicks, vl: fcVlines, lines: [[fcG, fcGLo, fcGHi], [fcR, fcRLo, fcRHi], [fcB, fcBLo, fcBHi]] },
	{ title: 'hammer', x: hmX, xr: [0.003, 2], ticks: hmTicks, vl: hmVlines, lines: [[hmG, hmGLo, hmGHi], [hmR, hmRLo, hmRHi], [hmB, hmBLo, hmBHi]] },
	{ title: 'handle-press-side', x: hpsX, xr: [0, 0.352], ticks: hpsTicks, vl: hpsVlines, lines: [[hpsG, hpsGLo, hpsGHi], [hpsR, hpsRLo, hpsRHi], [hpsB, hpsBLo, hpsBHi]] },
	{ title: 'handle-press', x: hpX, xr: [0, 0.5], ticks: hpTicks, vl: hpVlines, lines: [[hpG, hpGLo, hpGHi], [hpR, hpRLo, hpRHi], [hpB, hpBLo, hpBHi]] },
	{ title: 'handle-pull-side', x: hplsX, xr: [0.013, 2], ticks: hplsTicks, vl: hplsVlines, lines: [[hplsG, hplsGLo, hplsGHi], [hplsR, hplsRLo, hplsRHi], [hplsB, hplsBLo, hplsBHi]] },
	{ title: 'handle-pull', x: hplX, xr: [0.04, 1.096], ticks: hplTicks, vl: hplVlines, lines: [[hplG, hplGLo, hplGHi], [hplR, hplRLo, hplRHi], [hplB, hplBLo, hplBHi]] },
	{ title: 'plate-slide-side', x: pssX, xr: [0.005, 1.9], ticks: pssTicks, vl: pssVlines, lines: [[pssG, pssGLo, pssGHi], [pssR, pssRLo, pssRHi], [pssB, pssBLo, pssBHi]] },
	{ title: 'plate-slide', x: psX, xr: [0.02, 3], ticks: psTicks, vl: psVlines, lines: [[psG, psGLo, psGHi], [psR, psRLo, psRHi], [psB, psBLo, psBHi]] },
	{ title: 'reach', x: rcX, xr: [0, 1], ticks: rcTicks, vl: rcVlines, lines: [[rcG, rcGLo, rcGHi], [rcR, rcRLo, rcRHi], [rcB, rcBLo, rcBHi]] }
];

var FONT = "'DejaVu Sans', sans-serif";
var grids = [], xAxes = [], yAxes = [], series = [], graphics = [];

// 阴影带：用 custom 系列画多边形（上界 + 反向下界）
function bandSeries(i, xs, lo, hi, color) {
	return {
		type: 'custom', xAxisIndex: i, yAxisIndex: i, silent: true, clip: true, z: 1,
		data: [[xs[0], lo[0]]],
		renderItem: function (params, api) {
			var upper = xs.map(function (xv, j) { return api.coord([xv, hi[j]]); });
			var lower = xs.map(function (xv, j) { return api.coord([xv, lo[j]]); }).reverse();
			return { type: 'polygon', shape: { points: upper.concat(lower) }, style: { fill: color } };
		}
	};
}

panels.forEach(function (p, i) {
	var topRow = i < 7;
	var col = topRow ? i : i - 7;
	var left = topRow ? 44.3 + col * 172.7 : 130.5 + col * 171.2;
	var width = topRow ? 160 : 157.5;
	var top = topRow ? 26.5 : 269.3;
	var height = topRow ? 171 : 168;
	var intTicks = p.ticks.every(function (t) { return Math.round(t) === t; });

	grids.push({ left: left, top: top, width: width, height: height, show: true, borderColor: '#000', borderWidth: 1 });
	xAxes.push({
		type: 'value', gridIndex: i, min: p.xr[0], max: p.xr[1],
		splitLine: { show: false }, axisLine: { show: false },
		axisTick: { customValues: p.ticks, length: 4, lineStyle: { color: '#000' } },
		axisLabel: {
			customValues: p.ticks, color: '#000', fontSize: 15, fontFamily: FONT, margin: 6,
			formatter: function (v) { return intTicks ? String(v) : v.toFixed(1); }
		}
	});
	yAxes.push({
		type: 'value', gridIndex: i, min: -0.05, max: 1.05,
		splitLine: { show: false }, axisLine: { show: false },
		axisTick: { customValues: yTicks, length: 4, lineStyle: { color: '#000' } },
		axisLabel: {
			show: col === 0, customValues: yTicks, color: '#000', fontSize: 15, fontFamily: FONT, margin: 6,
			formatter: function (v) { return (v === 0 || v === 1) ? String(v) : String(v).replace(/^0/, ''); }
		}
	});

	methods.forEach(function (m, k) {
		var mean = p.lines[k][0], lo = p.lines[k][1], hi = p.lines[k][2];
		series.push(bandSeries(i, p.x, lo, hi, m.band));
		var s = {
			name: m.name, type: 'line', xAxisIndex: i, yAxisIndex: i, z: 3,
			symbol: 'none', color: m.color,
			lineStyle: { color: m.color, width: 1.5 },
			data: p.x.map(function (xv, j) { return [xv, mean[j]]; })
		};
		if (p.vl[k] != null) {
			s.markLine = {
				silent: true, symbol: ['none', 'none'], label: { show: false },
				lineStyle: { type: [5, 2.5], color: m.color, width: 1.5, opacity: 0.6 },
				data: [[{ coord: [p.vl[k], 0] }, { coord: [p.vl[k], 1] }]]
			};
		}
		series.push(s);
	});

	graphics.push({
		type: 'text', x: left + width / 2, y: topRow ? 15 : 259,
		style: { text: p.title, font: '12.5px ' + FONT, fill: '#000', align: 'center', verticalAlign: 'middle', textAlign: 'center', textVerticalAlign: 'middle' }
	});
	graphics.push({
		type: 'text', x: left + width, y: topRow ? 228 : 467,
		style: { text: '1e6', font: '15px ' + FONT, fill: '#000', align: 'right', verticalAlign: 'middle', textAlign: 'right', textVerticalAlign: 'middle' }
	});
});

// 图例外框
graphics.push({
	type: 'rect', z: -1, silent: true,
	shape: { x: 278.5, y: 479.5, width: 687, height: 44, r: 4 },
	style: { fill: '#fff', stroke: '#ccc', lineWidth: 1 }
});

var legendBase = {
	icon: 'rect', itemWidth: 37, itemHeight: 2, itemGap: 39, padding: 0,
	textStyle: { fontSize: 19, color: '#000', fontFamily: FONT }
};

var chart = echarts.init(document.getElementById('chart'));
chart.setOption({
	animation: false,
	backgroundColor: '#fff',
	grid: grids,
	xAxis: xAxes,
	yAxis: yAxes,
	legend: [
		Object.assign({ data: [methods[0].name, methods[1].name], left: 285, top: 487 }, legendBase),
		Object.assign({ data: [methods[2].name], left: 706, top: 487 }, legendBase)
	],
	graphic: { elements: graphics },
	series: series
});
</script>
</body>
</html>
